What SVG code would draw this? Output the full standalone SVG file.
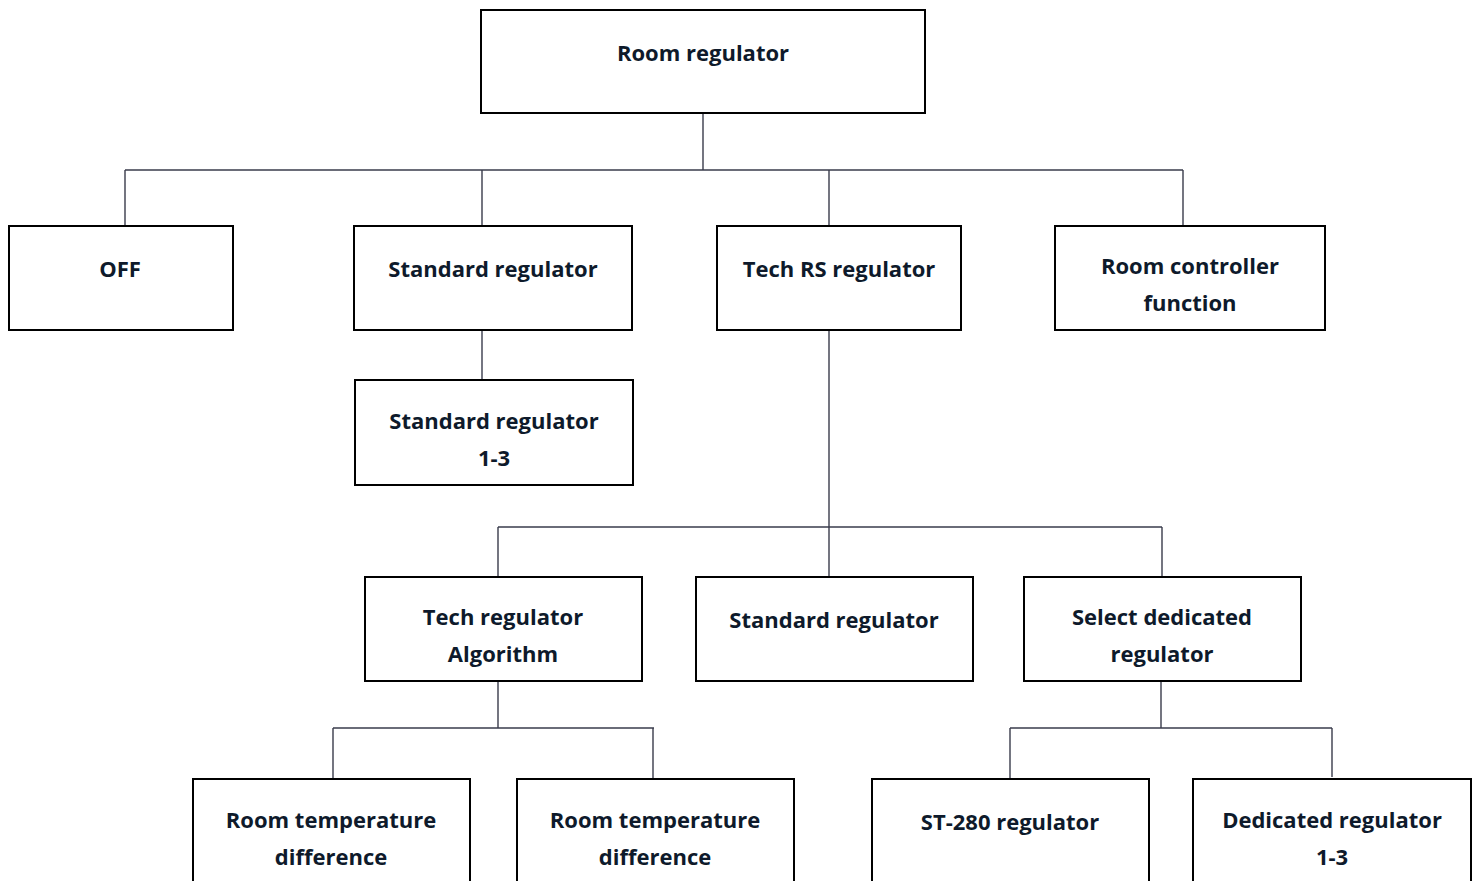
<svg xmlns="http://www.w3.org/2000/svg" width="1477" height="881" viewBox="0 0 1477 881">
<style>
.box{fill:#fff;stroke:#000;stroke-width:2}
.lbl{font-family:"Open Sans","Liberation Sans",sans-serif;font-weight:bold;font-size:22px;fill:#0e1a2b;text-anchor:middle}
.conn{stroke:#3a3c4c;stroke-width:1.4;fill:none}
</style>
<rect width="1477" height="881" fill="#fff"/>
<g id="connectors">
<path class="conn" d="M703 113V170M125 170H1183M125 170V226M482 170V226M829 170V226M1183 170V226"/>
<path class="conn" d="M482 330V380"/>
<path class="conn" d="M829 330V577M498 527H1162M498 527V577M1162 527V577"/>
<path class="conn" d="M498 681V728M333 728H654M333 728V779M653 728V779"/>
<path class="conn" d="M1161 681V728M1010 728H1332M1010 728V779M1332 728V777"/>
</g>
<g id="n-root"><rect class="box" x="481" y="10" width="444" height="103"/><text class="lbl" x="703" y="61">Room regulator</text></g>
<g id="n-off"><rect class="box" x="9" y="226" width="224" height="104"/><text class="lbl" x="120" y="277">OFF</text></g>
<g id="n-std"><rect class="box" x="354" y="226" width="278" height="104"/><text class="lbl" x="493" y="277">Standard regulator</text></g>
<g id="n-techrs"><rect class="box" x="717" y="226" width="244" height="104"/><text class="lbl" x="839" y="277">Tech RS regulator</text></g>
<g id="n-rcf"><rect class="box" x="1055" y="226" width="270" height="104"/><text class="lbl" x="1190" y="274">Room controller</text><text class="lbl" x="1190" y="311">function</text></g>
<g id="n-std13"><rect class="box" x="355" y="380" width="278" height="105"/><text class="lbl" x="494" y="429">Standard regulator</text><text class="lbl" x="494" y="466">1-3</text></g>
<g id="n-techalg"><rect class="box" x="365" y="577" width="277" height="104"/><text class="lbl" x="503" y="625">Tech regulator</text><text class="lbl" x="503" y="662">Algorithm</text></g>
<g id="n-std2"><rect class="box" x="696" y="577" width="277" height="104"/><text class="lbl" x="834" y="628">Standard regulator</text></g>
<g id="n-sel"><rect class="box" x="1024" y="577" width="277" height="104"/><text class="lbl" x="1162" y="625">Select dedicated</text><text class="lbl" x="1162" y="662">regulator</text></g>
<g id="n-rtd1"><rect class="box" x="193" y="779" width="277" height="110"/><text class="lbl" x="331" y="828">Room temperature</text><text class="lbl" x="331" y="865">difference</text></g>
<g id="n-rtd2"><rect class="box" x="517" y="779" width="277" height="110"/><text class="lbl" x="655" y="828">Room temperature</text><text class="lbl" x="655" y="865">difference</text></g>
<g id="n-st280"><rect class="box" x="872" y="779" width="277" height="110"/><text class="lbl" x="1010" y="830">ST-280 regulator</text></g>
<g id="n-ded"><rect class="box" x="1193" y="779" width="278" height="110"/><text class="lbl" x="1332" y="828">Dedicated regulator</text><text class="lbl" x="1332" y="865">1-3</text></g>
</svg>
